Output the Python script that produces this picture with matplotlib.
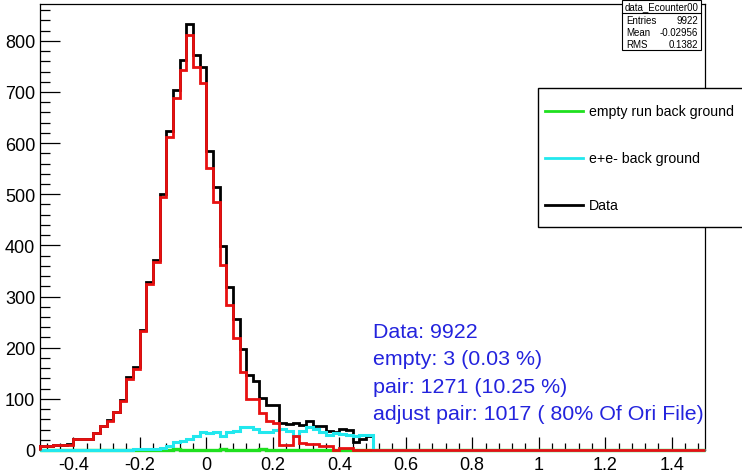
import numpy as np
import matplotlib.pyplot as plt
from matplotlib.patches import Rectangle
from matplotlib.lines import Line2D
from matplotlib.ticker import MultipleLocator

plt.rcParams['font.family'] = ['Liberation Sans', 'DejaVu Sans']
plt.rcParams['axes.unicode_minus'] = False

# 100 bins from -0.5 to 1.5, values read for the first 50 bins (rest are empty)
n_bins = 100
x_lo, x_hi = -0.5, 1.5

data = [8, 8, 10, 10, 11, 21, 22, 22, 33, 47,
        58, 75, 97, 142, 162, 234, 329, 372, 500, 623,
        704, 762, 832, 773, 749, 584, 515, 399, 318, 256,
        198, 146, 135, 101, 88, 88, 53, 51, 52, 48,
        57, 46, 46, 38, 35, 41, 40, 16, 22, 27]

adjusted = [7, 7, 10, 10, 10, 21, 21, 21, 33, 46,
            57, 74, 96, 139, 158, 232, 325, 368, 494, 612,
            688, 742, 811, 749, 718, 551, 485, 361, 284, 219,
            152, 100, 100, 72, 56, 52, 10, 10, 28, 13,
            12, 12, 8, 8, 0, 4, 4, 0, 0, 0]

pair_bkg = [0, 0, 0, 0, 0, 0, 0, 0, 0, 0,
            0, 0, 0, 0, 1, 1, 2, 2, 3, 8,
            15, 17, 21, 27, 35, 33, 35, 27, 35, 38,
            44, 44, 41, 35, 35, 40, 41, 37, 28, 37,
            44, 41, 35, 30, 33, 31, 30, 28, 30, 30]

empty_bkg = [0, 0, 0, 0, 0, 0, 0, 0, 0, 0,
             0, 0, 0, 0, 0, 0, 0, 0, 0, 0,
             1, 0, 0, 0, 0, 0, 0, 1, 0, 0,
             0, 0, 0, 1, 0, 0, 0, 0, 0, 0,
             0, 0, 0, 0, 0, 0, 0, 0, 0, 0]

legend_labels = ['empty run back ground', 'e+e- back ground', 'Data']
legend_colors = ['#1fe01f', '#22e8ee', 'black']

stats_title = 'data_Ecounter00'
stats_rows = [('Entries', '9922'), ('Mean', '-0.02956'), ('RMS', '0.1382')]

info_lines = ['Data: 9922',
              'empty: 3 (0.03 %)',
              'pair: 1271 (10.25 %)',
              'adjust pair: 1017 ( 80% Of Ori File)']

edges = np.linspace(x_lo, x_hi, n_bins + 1)


def full(vals):
    return np.concatenate([vals, np.zeros(n_bins - len(vals))])


W, H = 742, 477
fig = plt.figure(figsize=(W / 100, H / 100), dpi=100)
ax = fig.add_axes([40 / W, 26 / H, 665 / W, 446 / H])


def fx(px):
    return px / W


def fy(py):
    return 1 - py / H


lw = 2.0
ax.stairs(full(data), edges, color='black', lw=lw, zorder=2, clip_on=False)
ax.stairs(full(empty_bkg), edges, color=legend_colors[0], lw=2.4, zorder=3, clip_on=False)
ax.stairs(full(pair_bkg), edges, color=legend_colors[1], lw=2.2, zorder=4, clip_on=False)
ax.stairs(full(adjusted), edges, color='#e81010', lw=lw, zorder=5, clip_on=False)

ax.set_xlim(x_lo, x_hi)
ax.set_ylim(0, 872)

ax.xaxis.set_major_locator(MultipleLocator(0.2))
ax.xaxis.set_minor_locator(MultipleLocator(0.04))
ax.yaxis.set_major_locator(MultipleLocator(100))
ax.yaxis.set_minor_locator(MultipleLocator(20))
ax.xaxis.set_major_formatter(plt.FuncFormatter(lambda v, p: '%g' % round(v, 2)))

ax.tick_params(axis='both', which='both', direction='in', top=False, right=False,
               labelsize=13, width=0.9)
ax.tick_params(axis='x', which='major', length=9.4, pad=4)
ax.tick_params(axis='x', which='minor', length=4.7)
ax.tick_params(axis='y', which='major', length=14.4, pad=3.5)
ax.tick_params(axis='y', which='minor', length=7.2)
for s in ax.spines.values():
    s.set_linewidth(0.9)

# blue info text
for i, line in enumerate(info_lines):
    fig.text(fx(373), fy(332 + 27.6 * i), line, color='#2323dd', fontsize=15.4,
             va='center', ha='left')

# legend box
fig.add_artist(Rectangle((fx(538), fy(228)), fx(745) - fx(538), fy(89) - fy(228),
                         transform=fig.transFigure, facecolor='white',
                         edgecolor='black', lw=1.0, zorder=5))
for i, (lab, col) in enumerate(zip(legend_labels, legend_colors)):
    yy = fy(112 + 47 * i)
    fig.add_artist(Line2D([fx(545), fx(583)], [yy, yy], color=col, lw=2,
                          transform=fig.transFigure, zorder=6))
    fig.text(fx(589), yy, lab, fontsize=10.2, va='center', ha='left', zorder=6)

# stats box
fig.add_artist(Rectangle((fx(622), fy(51)), fx(701) - fx(622), fy(1) - fy(51),
                         transform=fig.transFigure, facecolor='white',
                         edgecolor='black', lw=0.8, zorder=5))
fig.add_artist(Line2D([fx(622), fx(701)], [fy(14), fy(14)], color='black', lw=0.8,
                      transform=fig.transFigure, zorder=6))
fig.text(fx(661.5), fy(7.5), stats_title, fontsize=7, ha='center', va='center', zorder=6)
for i, (k, v) in enumerate(stats_rows):
    fig.text(fx(626), fy(21 + 12 * i), k, fontsize=7, ha='left', va='center', zorder=6)
    fig.text(fx(698), fy(21 + 12 * i), v, fontsize=7, ha='right', va='center', zorder=6)

fig.savefig('out.png', dpi=100)
